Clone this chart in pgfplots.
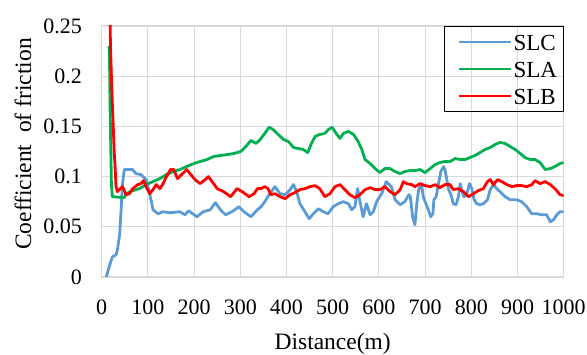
\documentclass[border=0pt]{standalone}
\usepackage{fontspec}
\setmainfont{Liberation Serif}
\usepackage{pgfplots}
\pgfplotsset{compat=1.18}
\definecolor{cBlue}{RGB}{91,155,213}
\definecolor{cGreen}{RGB}{0,176,80}
\definecolor{cRed}{RGB}{255,0,0}
\definecolor{cGrid}{RGB}{217,217,217}
\begin{document}
\begin{tikzpicture}
\useasboundingbox (-101.7pt,-78pt) rectangle (485.3pt,277pt);
\begin{axis}[
  at={(0,0)}, anchor=south west,
  scale only axis, width=462pt, height=251pt,
  xmin=0, xmax=1000, ymin=0, ymax=0.25,
  xtick={0,100,...,1000},
  xticklabels={0,100,200,300,400,500,600,700,800,900,1000},
  ytick={0,0.05,0.1,0.15,0.2,0.25},
  yticklabels={0,0.05,0.1,0.15,0.2,0.25},
  scaled y ticks=false, scaled x ticks=false,
  major tick length=0pt,
  grid=major,
  major grid style={draw=cGrid, line width=1.1pt},
  axis line style={draw=cGrid, line width=1.1pt},
  tick label style={font=\fontsize{22}{26}\selectfont},
  xticklabel style={anchor=north, inner sep=0pt, yshift=-23pt},
  yticklabel style={anchor=east, inner sep=0pt, xshift=-19.5pt},
  xlabel={Distance(m)},
  ylabel={Coefficient\ \ of friction},
  every axis x label/.style={at={(axis description cs:0.5,-0.267)}, anchor=center, font=\fontsize{23.5}{28}\selectfont},
  every axis y label/.style={at={(axis description cs:-0.1703,0.53)}, rotate=90, anchor=center, font=\fontsize{23.5}{28}\selectfont},
  legend style={at={(1,1)}, anchor=north east, draw=black, line width=1.2pt, fill=none,
    font=\fontsize{23}{27}\selectfont, inner xsep=4.5pt, inner ysep=4pt, row sep=4pt,
    nodes={inner xsep=1.5pt, inner ysep=0pt, text height=19.6pt, text depth=3.4pt},
    cells={anchor=west}},
  legend image code/.code={\path (-8.5pt,0pt); \draw[#1] (0pt,0pt) -- (52pt,0pt);},
  every axis plot/.append style={line width=2.8pt, line join=round},
]
\addplot[cBlue] coordinates {
(10,0) (16,0.01) (23,0.02) (31,0.022) (34,0.027) (39,0.043) (42,0.067) (45,0.093) (49,0.107)
(67,0.107) (74,0.103) (85,0.102) (96,0.097) (104,0.083) (111,0.067) (122,0.063) (133,0.065)
(147,0.064) (169,0.065) (180,0.062) (188,0.066) (206,0.06) (220,0.065) (235,0.067) (246,0.074)
(257,0.067) (268,0.062) (282,0.065) (297,0.07) (308,0.065) (323,0.06) (337,0.067) (345,0.07)
(353,0.075) (364,0.083) (375,0.09) (386,0.083) (397,0.082) (408,0.087) (415,0.092) (422,0.085)
(429,0.073) (440,0.065) (449,0.058) (458,0.063) (469,0.068) (480,0.065) (490,0.063) (501,0.07)
(512,0.073) (523,0.075) (534,0.073) (541,0.067) (548,0.07) (554,0.088) (559,0.075) (566,0.06)
(573,0.073) (581,0.062) (588,0.065) (595,0.075) (606,0.083) (616,0.095) (627,0.09) (635,0.077)
(646,0.072) (656,0.075) (665,0.082) (668,0.08) (673,0.06) (678,0.052) (682,0.073) (686,0.087)
(692,0.093) (696,0.08) (700,0.075) (707,0.067) (712,0.06) (717,0.063) (719,0.077) (724,0.08)
(729,0.093) (734,0.105) (740,0.11) (743,0.107) (747,0.097) (751,0.087) (756,0.082) (761,0.073)
(767,0.072) (772,0.08) (776,0.093) (779,0.087) (784,0.08) (790,0.082) (796,0.093) (801,0.088)
(806,0.077) (812,0.073) (819,0.072) (826,0.073) (835,0.077) (841,0.087) (848,0.092) (855,0.088)
(862,0.085) (873,0.08) (884,0.077) (898,0.077) (909,0.075) (920,0.07) (931,0.063) (942,0.063)
(952,0.062) (963,0.062) (971,0.055) (978,0.057) (985,0.062) (992,0.065) (1000,0.065)
};
\addlegendentry{SLC}
\addplot[cGreen] coordinates {
(16,0.23) (17,0.215) (18,0.173) (20,0.12) (21,0.093) (23,0.08) (49,0.079) (53,0.083) (67,0.086)
(82,0.088) (96,0.092) (111,0.095) (126,0.098) (140,0.102) (155,0.105) (169,0.107) (184,0.11)
(199,0.113) (213,0.115) (228,0.117) (242,0.12) (257,0.121) (272,0.122) (286,0.123) (301,0.125)
(312,0.13) (323,0.136) (334,0.133) (343,0.137) (353,0.143) (362,0.149) (371,0.147) (382,0.142)
(393,0.137) (404,0.135) (415,0.129) (426,0.128) (436,0.127) (446,0.124) (454,0.133) (462,0.14)
(472,0.142) (483,0.143) (491,0.147) (499,0.149) (509,0.142) (516,0.138) (523,0.143) (534,0.145)
(545,0.142) (555,0.135) (563,0.127) (570,0.117) (581,0.113) (592,0.108) (602,0.104) (613,0.108)
(624,0.108) (635,0.105) (646,0.103) (656,0.105) (667,0.106) (678,0.106) (689,0.107) (700,0.104)
(711,0.108) (722,0.112) (732,0.114) (743,0.115) (754,0.115) (765,0.118) (776,0.117) (787,0.117)
(797,0.119) (808,0.121) (819,0.124) (830,0.127) (841,0.129) (852,0.132) (862,0.134) (873,0.133)
(884,0.13) (895,0.127) (906,0.123) (916,0.119) (927,0.117) (938,0.117) (949,0.114) (960,0.107)
(971,0.108) (981,0.11) (992,0.113) (1000,0.114)
};
\addlegendentry{SLA}
\addplot[cRed] coordinates {
(18,0.26) (19,0.23) (21,0.2) (23,0.173) (25,0.15) (27,0.125) (29,0.11) (31,0.09) (34,0.085)
(38,0.087) (45,0.09) (53,0.082) (60,0.083) (67,0.088) (78,0.092) (85,0.093) (91,0.096) (96,0.09)
(104,0.083) (111,0.087) (118,0.092) (126,0.088) (133,0.093) (140,0.1) (149,0.107) (156,0.107)
(164,0.098) (173,0.102) (184,0.107) (191,0.103) (202,0.097) (213,0.093) (224,0.097) (231,0.1)
(239,0.095) (250,0.088) (264,0.085) (279,0.08) (293,0.088) (304,0.085) (319,0.08) (330,0.083)
(337,0.088) (345,0.088) (353,0.09) (360,0.088) (366,0.082) (375,0.083) (386,0.08) (397,0.078)
(408,0.082) (418,0.084) (429,0.087) (440,0.088) (451,0.09) (462,0.091) (472,0.088) (483,0.08)
(494,0.083) (505,0.09) (516,0.092) (526,0.087) (537,0.082) (548,0.079) (559,0.082) (570,0.087)
(581,0.089) (592,0.087) (602,0.087) (613,0.09) (624,0.085) (635,0.082) (646,0.087) (653,0.095)
(660,0.093) (671,0.092) (678,0.09) (689,0.093) (700,0.091) (711,0.09) (722,0.092) (732,0.089)
(743,0.092) (754,0.092) (761,0.087) (772,0.088) (783,0.085) (794,0.08) (805,0.083) (815,0.086)
(826,0.088) (835,0.095) (841,0.097) (848,0.092) (857,0.097) (866,0.095) (877,0.092) (888,0.09)
(898,0.091) (909,0.091) (920,0.09) (931,0.092) (938,0.096) (949,0.093) (960,0.095) (971,0.092)
(981,0.088) (992,0.082) (1000,0.081)
};
\addlegendentry{SLB}
\end{axis}
\end{tikzpicture}
\end{document}
